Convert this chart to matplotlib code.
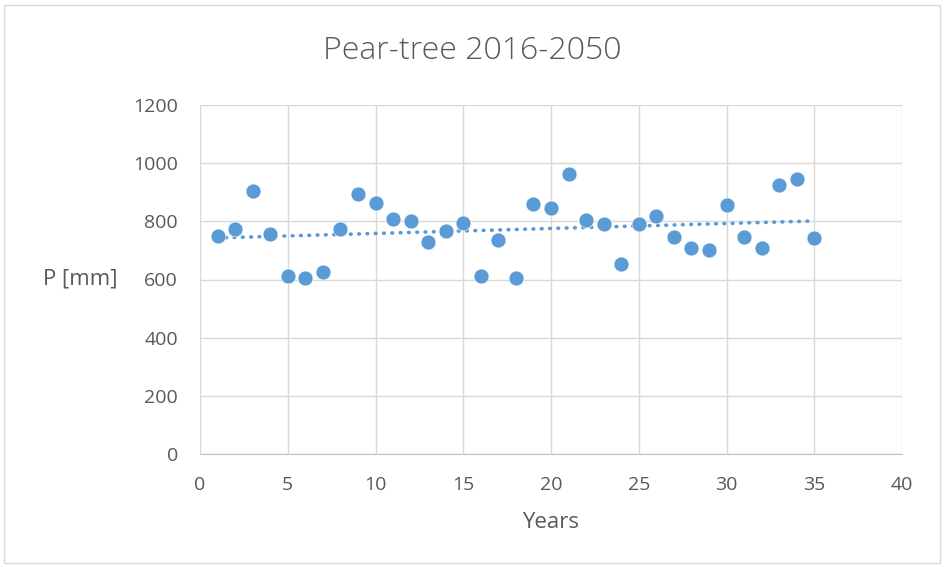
import matplotlib.pyplot as plt
import numpy as np
from matplotlib.patches import Rectangle

years = list(range(1, 36))
precip = [751, 775, 905, 755, 612, 604, 627, 774, 895, 862,
          809, 801, 729, 766, 793, 612, 735, 604, 860, 847,
          963, 804, 792, 654, 792, 818, 745, 710, 703, 855,
          747, 710, 925, 946, 744]
x_ticks = [0, 5, 10, 15, 20, 25, 30, 35, 40]
y_ticks = [0, 200, 400, 600, 800, 1000, 1200]

plt.rcParams['font.family'] = ['Open Sans', 'DejaVu Sans']
text_color = '#595959'
blue = '#5B9BD5'

fig = plt.figure(figsize=(9.44, 5.67), dpi=100)
ax = fig.add_axes([200 / 944, 1 - 454 / 567, 702 / 944, 349 / 567])

# linear trendline
coef = np.polyfit(years, precip, 1)
trend_x = np.array([years[0], years[-1]])
ax.plot(trend_x, np.polyval(coef, trend_x), color=blue, lw=2.6,
        linestyle=(0, (0.2, 2.1)), dash_capstyle='round', zorder=2)

ax.scatter(years, precip, s=115, color=blue, edgecolors='white',
           linewidths=0.4, zorder=3)

ax.set_xlim(0, 40)
ax.set_ylim(0, 1200)
ax.set_xticks(x_ticks)
ax.set_yticks(y_ticks)
ax.grid(True, color='#D9D9D9', lw=1)
ax.set_axisbelow(True)
for side in ['left', 'right', 'top']:
    ax.spines[side].set_visible(False)
ax.spines['bottom'].set_color('#BFBFBF')
ax.tick_params(length=0, labelsize=14, colors=text_color, pad=16)

ax.set_xlabel('Years', fontsize=16, color=text_color, va='center')
ax.xaxis.set_label_coords(0.5, -68 / 349)
ax.set_ylabel('P [mm]', fontsize=16, color=text_color, rotation=0,
              va='center', ha='center')
ax.yaxis.set_label_coords(-120 / 702, 0.5)

fig.text(0.5, 1 - 51 / 567, 'Pear-tree 2016-2050', ha='center', va='center',
         fontsize=23, color=text_color, fontweight='light')

# chart border
fig.patches.append(Rectangle((4 / 944, 4 / 567), 936 / 944, 558 / 567,
                             transform=fig.transFigure, fill=False,
                             edgecolor='#D9D9D9', lw=1))

fig.savefig('out.png', dpi=100)
